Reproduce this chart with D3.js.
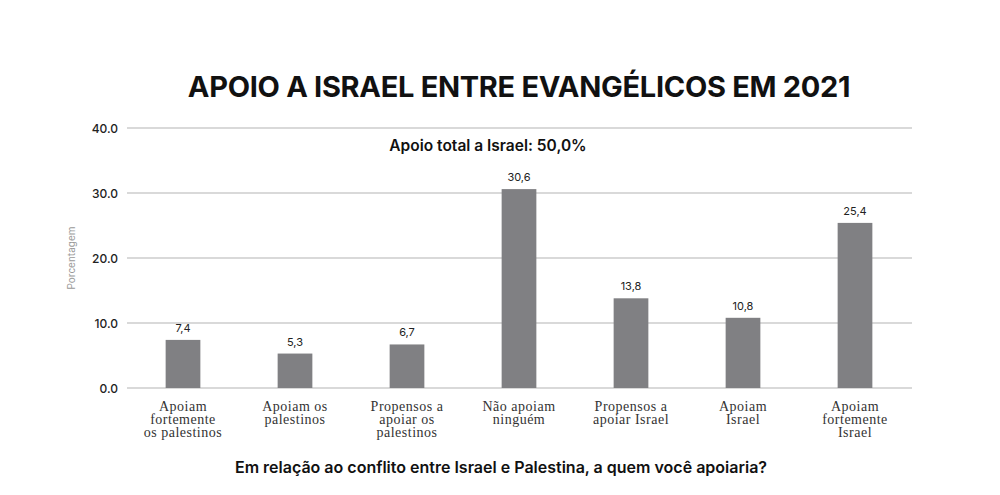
<!DOCTYPE html>
<html><head><meta charset="utf-8">
<script src="https://cdn.jsdelivr.net/npm/d3@7"></script>
<style>body{margin:0;background:#fff;}svg{display:block;}</style>
</head><body>
<svg id="c" width="1000" height="495"></svg>
<script>
const categories = [
  ["Apoiam","fortemente","os palestinos"],
  ["Apoiam os","palestinos"],
  ["Propensos a","apoiar os","palestinos"],
  ["Não apoiam","ninguém"],
  ["Propensos a","apoiar Israel"],
  ["Apoiam","Israel"],
  ["Apoiam","fortemente","Israel"]
];
const values = [7.4, 5.3, 6.7, 30.6, 13.8, 10.8, 25.4];
const valueLabels = ["7,4","5,3","6,7","30,6","13,8","10,8","25,4"];
const yTicks = [0, 10, 20, 30, 40];

const svg = d3.select("#c");
const x = d3.scaleBand().domain(d3.range(categories.length)).range([127, 911]).paddingInner(0.69).paddingOuter(0.345);
const y = d3.scaleLinear().domain([0, 40]).range([388, 128]);

svg.append("g").selectAll("line").data(yTicks).join("line")
  .attr("x1", 127).attr("x2", 912)
  .attr("y1", d => y(d)).attr("y2", d => y(d))
  .attr("stroke", "#b4b4b4").attr("stroke-width", 1.2);

svg.append("g").selectAll("text").data(yTicks).join("text")
  .attr("x", 118).attr("y", d => y(d) + 4.5)
  .attr("text-anchor", "end")
  .attr("font-family", "Inter, 'Open Sans', sans-serif").attr("font-size", 12).attr("font-weight", 500)
  .attr("fill", "#222")
  .text(d => d.toFixed(1));

svg.append("text")
  .attr("transform", "translate(75,258) rotate(-90)")
  .attr("text-anchor", "middle")
  .attr("font-family", "Inter, 'Open Sans', sans-serif").attr("font-size", 10)
  .attr("fill", "#999").text("Porcentagem");

svg.append("g").selectAll("rect").data(values).join("rect")
  .attr("x", (d, i) => x(i)).attr("width", x.bandwidth())
  .attr("y", d => y(d)).attr("height", d => y(0) - y(d))
  .attr("fill", "#808083");

svg.append("g").selectAll("text").data(values).join("text")
  .attr("x", (d, i) => x(i) + x.bandwidth() / 2)
  .attr("y", d => y(d) - 8)
  .attr("text-anchor", "middle")
  .attr("font-family", "Inter, 'Open Sans', sans-serif").attr("font-size", 11)
  .attr("fill", "#222")
  .text((d, i) => valueLabels[i]);

const cl = svg.append("g").selectAll("text").data(categories).join("text")
  .attr("text-anchor", "middle")
  .attr("font-family", "'Liberation Serif', 'DejaVu Serif', serif").attr("font-size", 14)
  .attr("letter-spacing", 0.5)
  .attr("fill", "#333");
cl.each(function(lines, i) {
  d3.select(this).selectAll("tspan").data(lines).join("tspan")
    .attr("x", x(i) + x.bandwidth() / 2)
    .attr("y", (l, j) => 411 + j * 13)
    .text(l => l);
});

svg.append("text").attr("x", 519).attr("y", 97).attr("text-anchor", "middle")
  .attr("font-family", "Inter, 'Open Sans', sans-serif").attr("font-size", 29).attr("font-weight", 700)
  .attr("fill", "#111").attr("letter-spacing", -0.3)
  .text("APOIO A ISRAEL ENTRE EVANGÉLICOS EM 2021");

svg.append("text").attr("x", 488).attr("y", 151).attr("text-anchor", "middle")
  .attr("font-family", "Inter, 'Open Sans', sans-serif").attr("font-size", 15.5).attr("font-weight", 600)
  .attr("fill", "#111").text("Apoio total a Israel: 50,0%");

svg.append("text").attr("x", 501).attr("y", 473).attr("text-anchor", "middle")
  .attr("font-family", "Inter, 'Open Sans', sans-serif").attr("font-size", 16).attr("font-weight", 600)
  .attr("fill", "#111").text("Em relação ao conflito entre Israel e Palestina, a quem você apoiaria?");
</script>
</body></html>
